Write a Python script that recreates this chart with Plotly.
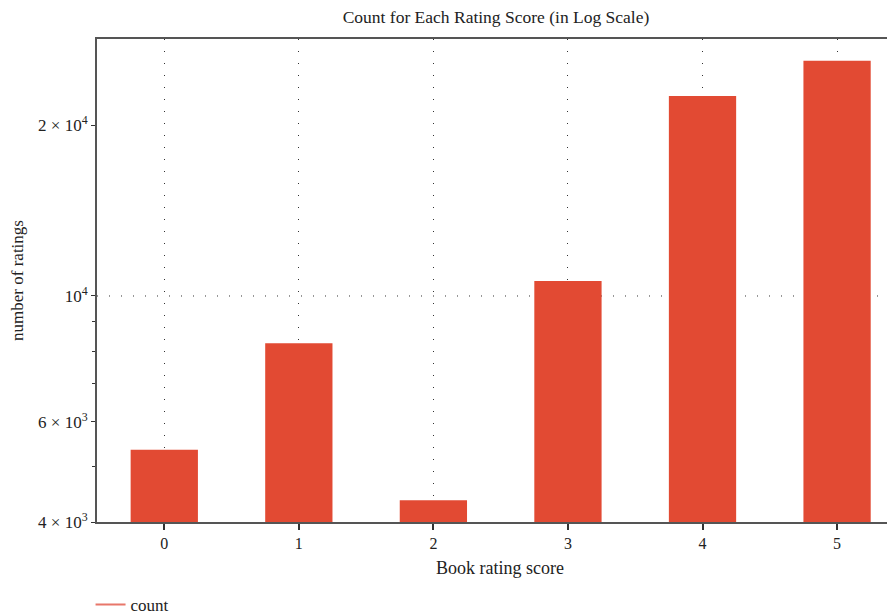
import plotly.graph_objects as go

categories = [0, 1, 2, 3, 4, 5]
counts = [5360, 8260, 4370, 10630, 22500, 25950]
y_major_vals = [4000, 6000, 10000, 20000]
y_major_text = ["4 × 10<sup>3</sup>", "6 × 10<sup>3</sup>", "10<sup>4</sup>", "2 × 10<sup>4</sup>"]
y_minor_vals = [5000, 7000, 8000, 9000]

font_family = "Liberation Serif"
axis_color = "#555555"

fig = go.Figure()
fig.add_trace(go.Bar(
    x=categories, y=counts, width=0.5,
    marker=dict(color="#E24A33", line=dict(width=0)),
    showlegend=False, name="count",
))
fig.add_trace(go.Scatter(
    x=[None], y=[None], mode="lines", name="count",
    line=dict(color="#E8776A", width=2), showlegend=True,
))

fig.add_shape(type="line", xref="paper", x0=0, x1=1, yref="y", y0=10000, y1=10000,
              line=dict(color="#333333", width=1, dash="1px,11px"), layer="below")

fig.update_layout(
    width=895, height=616,
    margin=dict(l=89, r=0, t=31, b=102),
    plot_bgcolor="white", paper_bgcolor="white",
    font=dict(family=font_family, size=16, color="#222222"),
    title=dict(text="Count for Each Rating Score (in Log Scale)", x=488 / 895, xanchor="center",
               yref="container", y=1.0, yanchor="top", pad=dict(t=3),
               font=dict(size=17.5, color="#222222")),
    bargap=0.5,
    legend=dict(orientation="h", x=-0.008, xanchor="left", y=-0.209, yanchor="bottom",
                font=dict(size=17), itemwidth=30),
    xaxis=dict(
        range=[-0.5, 5.49], tickvals=categories, ticktext=[str(c) for c in categories],
        showline=True, linecolor=axis_color, linewidth=2, mirror=True,
        ticks="outside", ticklen=6, tickcolor="#333333", tickwidth=1.5,
        showgrid=True, gridcolor="#333333", gridwidth=1, griddash="1px,11px",
        zeroline=False, automargin=False,
        title=dict(text="Book rating score", font=dict(size=18), standoff=10),
        tickfont=dict(size=16),
    ),
    yaxis=dict(
        type="log",
        range=[3.60206, 4.4525],
        tickmode="array", tickvals=y_major_vals, ticktext=y_major_text,
        showline=True, linecolor=axis_color, linewidth=2, mirror=False,
        ticks="outside", ticklen=4, tickcolor="#333333", tickwidth=1,
        showgrid=False, zeroline=False, automargin=False,
        minor=dict(tickmode="array", tickvals=y_minor_vals, ticks="outside", ticklen=3,
                   tickcolor="#333333", tickwidth=1, showgrid=False),
        title=dict(text="number of ratings", font=dict(size=17), standoff=12),
        tickfont=dict(size=17),
    ),
)

fig.write_html("out.html")
